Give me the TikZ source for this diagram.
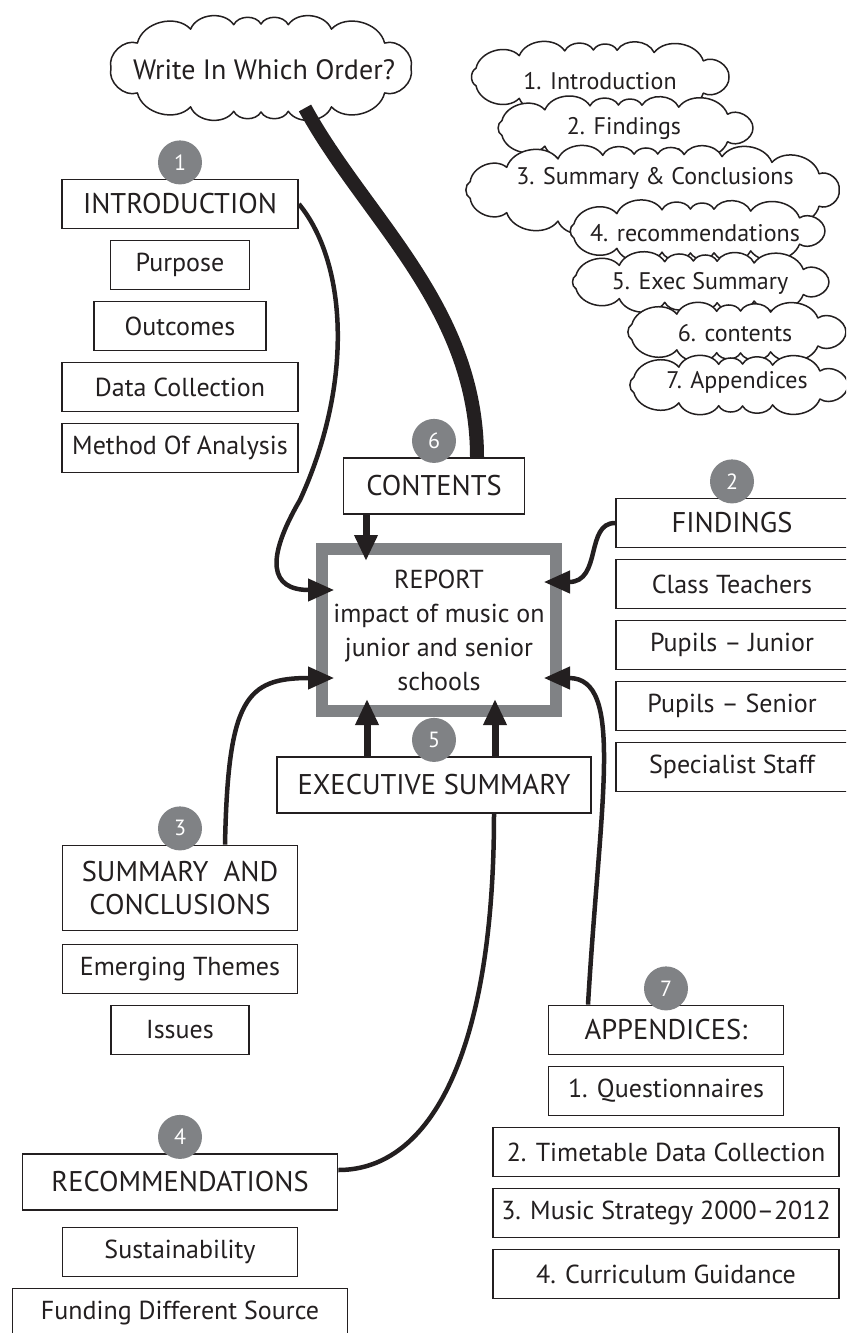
\documentclass[tikz,border=0pt]{standalone}
\usepackage{fontspec}
\setmainfont{PT Sans}
\usetikzlibrary{positioning,arrows.meta}
\definecolor{ink}{HTML}{231F20}
\definecolor{steel}{HTML}{808285}

% bumpy cloud: half axes and number of puffs,
% puffs packed closer near the flat ends
\tikzset{
  pics/puff/.style n args={3}{code={%
    \filldraw[draw=ink, fill=white, line width=1.5pt, line join=round]
      (0:#1 and #2)
      foreach \k in {1,...,#3}{
        to[bend right=62] ({\k*360/#3+17*sin(2*\k*360/#3)}:#1 and #2)
      } -- cycle;
  }}
}

\begin{document}
\begin{tikzpicture}[
   x=1pt, y=1pt,
   node distance=61pt,
   box/.style={draw=ink, line width=1.8pt, fill=white, text=ink, minimum height=49pt, inner xsep=2pt, align=center, font=\fontsize{26}{33}\selectfont},
   head/.style={box, minimum height=56pt},
   caps/.style={font=\fontsize{28.5}{33}\selectfont},
   badge/.style={circle, fill=steel, text=white, minimum size=44pt, inner sep=0pt, font=\fontsize{22}{22}\selectfont},
   say/.style={text=ink, inner sep=0pt, font=\fontsize{24}{28}\selectfont},
   hub/.style={draw=steel, line width=12pt, fill=white, text=ink, minimum width=234pt, minimum height=162pt, align=center, font=\fontsize{26}{34}\selectfont},
   link/.style={draw=ink, line width=4.5pt, -{Triangle[length=26pt,width=22pt]}, shorten >=-18pt},
   stub/.style={link, line width=7pt},
   plain/.style={draw=ink, line width=4.5pt},
   heavy/.style={draw=ink, line width=14pt}
]
\useasboundingbox (0,0) rectangle (846,-1333);
\clip (0,0) rectangle (846,-1333);

% Clouds, each one laid over the one before
\pic at (261,-68) {puff={150}{44}{16}};
\node[say, font=\fontsize{28}{32}\selectfont] (order) at (264,-70) {Write In Which Order?};
\pic at (599,-77) {puff={130}{27}{15}};
\node[say] (o1) at (600,-81) {1. Introduction};
\pic at (624,-128) {puff={129}{23}{15}};
\node[say] (o2) at (624,-128) {2. Findings};
\pic at (652,-190) {puff={187}{36}{21}};
\node[say] (o3) at (655,-178) {3. Summary \& Conclusions};
\pic at (696,-231) {puff={129}{22}{15}};
\node[say] (o4) at (695,-233) {4. recommendations};
\pic at (699,-282) {puff={130}{21}{15}};
\node[say] (o5) at (700,-283) {5. Exec Summary};
\pic at (735,-332) {puff={111}{21}{13}};
\node[say] (o6) at (735,-333) {6. contents};
\pic at (737,-385) {puff={111}{21}{13}};
\node[say] (o7) at (737,-382) {7. Appendices};

% Centre
\node[hub] (report) at (439,-630) {REPORT\\impact of music on\\junior and senior\\schools};
\node[head, caps, minimum width=181pt] (contents) at (434,-486) {CONTENTS};
\node[head, caps, minimum width=314pt] (exec) at (434,-785) {EXECUTIVE SUMMARY};

% Introduction
\node[box, caps, minimum width=236pt] (intro) at (180,-204) {INTRODUCTION};
\node[box, minimum width=139pt] (purpose) [below of=intro] {Purpose};
\node[box, minimum width=172pt] (outcomes) [below of=purpose] {Outcomes};
\node[box, minimum width=236pt] (datacoll) [below of=outcomes] {Data Collection};
\node[box, minimum width=236pt] (method) [below of=datacoll] {Method Of Analysis};

% Findings
\node[box, caps, minimum width=232pt] (findings) at (732,-523) {FINDINGS};
\node[box, minimum width=232pt] (teachers) [below of=findings] {Class Teachers};
\node[box, minimum width=232pt] (junior) [below of=teachers] {Pupils – Junior};
\node[box, minimum width=232pt] (senior) [below of=junior] {Pupils – Senior};
\node[box, minimum width=232pt] (staff) [below of=senior] {Specialist Staff};

% Summary and conclusions
\node[box, caps, minimum width=235pt, minimum height=85pt] (summary) at (180,-888) {SUMMARY~~AND\\CONCLUSIONS};
\node[box, minimum width=235pt] (themes) [below of=summary, node distance=81pt] {Emerging Themes};
\node[box, minimum width=138pt] (issues) [below of=themes] {Issues};

% Recommendations
\node[head, caps, minimum width=315pt] (recom) at (180,-1182) {RECOMMENDATIONS};
\node[box, minimum width=235pt] (sustain) [below of=recom, node distance=70pt] {Sustainability};
\node[box, minimum width=335pt] (funding) [below of=sustain] {Funding Different Source};

% Appendices
\node[box, caps, minimum width=235pt] (app) at (666,-1030) {APPENDICES:};
\node[box, minimum width=235pt] (quest) [below of=app] {1. Questionnaires};
\node[box, minimum width=346pt] (timetable) [below of=quest] {2. Timetable Data Collection};
\node[box, minimum width=346pt] (strategy) [below of=timetable] {3. Music Strategy 2000–2012};
\node[box, minimum width=346pt] (guidance) [below of=strategy] {4. Curriculum Guidance};

% Order badges
\node[badge, above=-6pt of intro] (n1) {1};
\node[badge, above=-6pt of findings] (n2) {2};
\node[badge, above=-6pt of summary] (n3) {3};
\node[badge, above=-6pt of recom] (n4) {4};
\node[badge, above=-6pt of exec] (n5) {5};
\node[badge, above=-6pt of contents] (n6) {6};
\node[badge, above=-6pt of app] (n7) {7};

% Connectors
\draw[heavy] ([xshift=41pt,yshift=-38pt]order.center) .. controls +(60,-110) and +(0,150) .. ([xshift=43pt]contents.north);
\draw[stub] ([xshift=-68pt]contents.south) -- ([xshift=-73pt]report.north);
\draw[stub] ([xshift=-67pt]exec.north) -- ([xshift=-72pt]report.south);
\draw[stub] ([xshift=61pt]exec.north) -- ([xshift=56pt]report.south);
\draw[link] (intro.east) .. controls +(47,-57) and +(55,120) .. (300,-500) .. controls +(-35,-60) and +(-46,0) .. ([yshift=40pt]report.west);
\draw[link] (findings.west) .. controls +(-30,0) and +(40,0) .. ([yshift=48pt]report.east);
\draw[link] ([xshift=45pt]summary.north) .. controls +(3,146) and +(-70,0) .. ([yshift=-48pt]report.west);
\draw[link] ([xshift=-78pt]app.north) .. controls +(12,204) and +(63,0) .. ([yshift=-48pt]report.east);
\draw[plain] ([yshift=12pt]recom.east) .. controls +(93,0) and +(0,-237) .. ([xshift=60pt]exec.south);

\end{tikzpicture}
\end{document}
